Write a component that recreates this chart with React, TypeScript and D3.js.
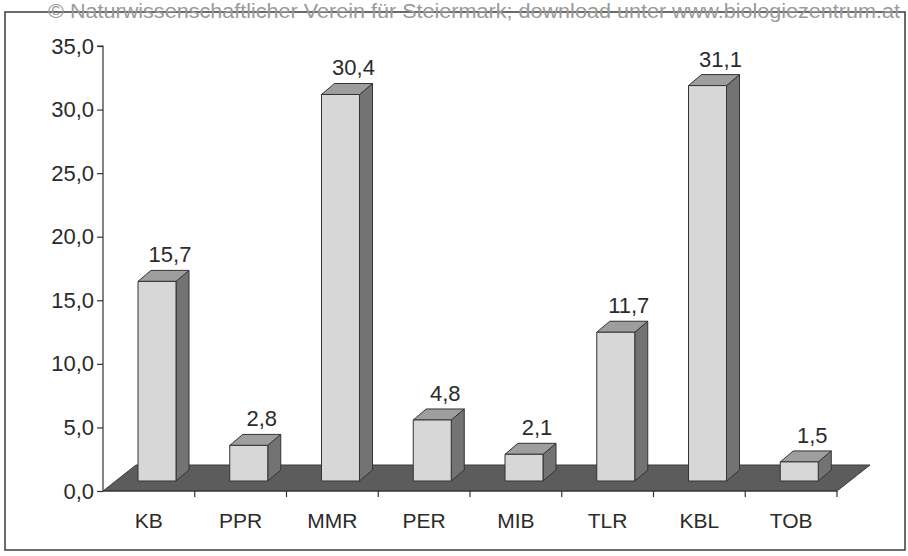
import React, { useEffect, useRef } from 'react';
import * as d3 from 'd3';

// values
const categories = ['KB', 'PPR', 'MMR', 'PER', 'MIB', 'TLR', 'KBL', 'TOB'];
const values = [15.7, 2.8, 30.4, 4.8, 2.1, 11.7, 31.1, 1.5];
const yTicks = [0, 5, 10, 15, 20, 25, 30, 35];
const watermark = '© Naturwissenschaftlicher Verein für Steiermark; download unter www.biologiezentrum.at';

const W = 908;
const H = 556;

export default function App() {
  const ref = useRef<SVGSVGElement | null>(null);

  useEffect(() => {
    const svg = d3.select(ref.current);
    svg.selectAll('*').remove();

    const de = d3.formatLocale({ decimal: ',', thousands: '.', grouping: [3], currency: ['', ''] });
    const fmt = de.format('.1f');
    const font = 'Arial, "Liberation Sans", sans-serif';
    const ink = '#2b2b2b';

    const x = d3.scaleBand<string>().domain(categories).range([103, 837]).padding(0);
    const y = d3.scaleLinear().domain([0, 35]).range([491, 46]);

    // floor depth and bar depth (oblique projection)
    const floorD = { dx: 33, dy: -26 };
    const barOff = { dx: 13, dy: -10 };
    const barD = { dx: 13, dy: -11 };
    const barLeft = 22;
    const barW = 38;

    // frame
    svg.append('rect')
      .attr('x', 5).attr('y', 12)
      .attr('width', 900).attr('height', 538)
      .attr('fill', 'none').attr('stroke', '#3a3a3a').attr('stroke-width', 1.5);

    // watermark
    svg.append('text')
      .attr('x', 48).attr('y', 18)
      .attr('textLength', 852)
      .attr('lengthAdjust', 'spacingAndGlyphs')
      .attr('font-family', font).attr('font-size', 20)
      .attr('fill', '#9a9a9a')
      .text(watermark);

    // floor
    const [x0, x1] = x.range();
    const y0 = y(0);
    const floor = [
      [x0, y0], [x1, y0],
      [x1 + floorD.dx, y0 + floorD.dy], [x0 + floorD.dx, y0 + floorD.dy]
    ];
    svg.append('polygon')
      .attr('points', floor.map(p => p.join(',')).join(' '))
      .attr('fill', '#5c5c5c').attr('stroke', '#3a3a3a').attr('stroke-width', 1);

    // bars
    const bars = svg.append('g');
    categories.forEach((c, i) => {
      const v = values[i];
      const bx = (x(c) as number) + barOff.dx + barLeft;
      const by0 = y(0) + barOff.dy;
      const by1 = y(v) + barOff.dy;
      const g = bars.append('g').attr('stroke', '#333').attr('stroke-width', 1).attr('stroke-linejoin', 'round');
      // side
      g.append('polygon')
        .attr('points', [
          [bx + barW, by0], [bx + barW + barD.dx, by0 + barD.dy],
          [bx + barW + barD.dx, by1 + barD.dy], [bx + barW, by1]
        ].map(p => p.join(',')).join(' '))
        .attr('fill', '#737373');
      // top
      g.append('polygon')
        .attr('points', [
          [bx, by1], [bx + barW, by1],
          [bx + barW + barD.dx, by1 + barD.dy], [bx + barD.dx, by1 + barD.dy]
        ].map(p => p.join(',')).join(' '))
        .attr('fill', '#9e9e9e');
      // front
      g.append('rect')
        .attr('x', bx).attr('y', by1)
        .attr('width', barW).attr('height', by0 - by1)
        .attr('fill', '#d7d7d7');
      // value label
      svg.append('text')
        .attr('x', bx + barW / 2 + barD.dx)
        .attr('y', by1 + barD.dy - 8)
        .attr('text-anchor', 'middle')
        .attr('font-family', font).attr('font-size', 22)
        .attr('fill', ink)
        .text(fmt(v));
    });

    // y axis
    const yAxis = svg.append('g')
      .attr('transform', `translate(${x0},0)`)
      .call(d3.axisLeft(y).tickValues(yTicks).tickFormat(d => fmt(d as number)).tickSize(6).tickPadding(3));
    yAxis.selectAll('path, line').attr('stroke', '#333').attr('stroke-width', 1.2);
    yAxis.select('.domain').attr('d', `M-6,${y(35)}H0V${y(0)}`);
    yAxis.selectAll('text')
      .attr('font-family', font).attr('font-size', 22).attr('fill', ink);

    // x axis ticks at category boundaries and labels
    const xAxis = svg.append('g');
    xAxis.append('line')
      .attr('x1', x0).attr('x2', x1).attr('y1', y0).attr('y2', y0)
      .attr('stroke', '#333').attr('stroke-width', 1.2);
    xAxis.selectAll('line.tick')
      .data(categories)
      .enter()
        .append('line')
          .attr('class', 'tick')
          .attr('x1', d => (x(d) as number) + x.bandwidth())
          .attr('x2', d => (x(d) as number) + x.bandwidth())
          .attr('y1', y0).attr('y2', y0 + 6)
          .attr('stroke', '#333').attr('stroke-width', 1.2);
    xAxis.selectAll('text')
      .data(categories)
      .enter()
        .append('text')
          .attr('x', d => (x(d) as number) + x.bandwidth() / 2)
          .attr('y', 528)
          .attr('text-anchor', 'middle')
          .attr('font-family', font).attr('font-size', 21)
          .attr('fill', ink)
          .text(d => d);
  }, []);

  return (
    <svg
      ref={ref}
      width={W}
      height={H}
      style={{ position: 'absolute', left: 0, top: 0, background: '#fff' }}
    />
  );
}
